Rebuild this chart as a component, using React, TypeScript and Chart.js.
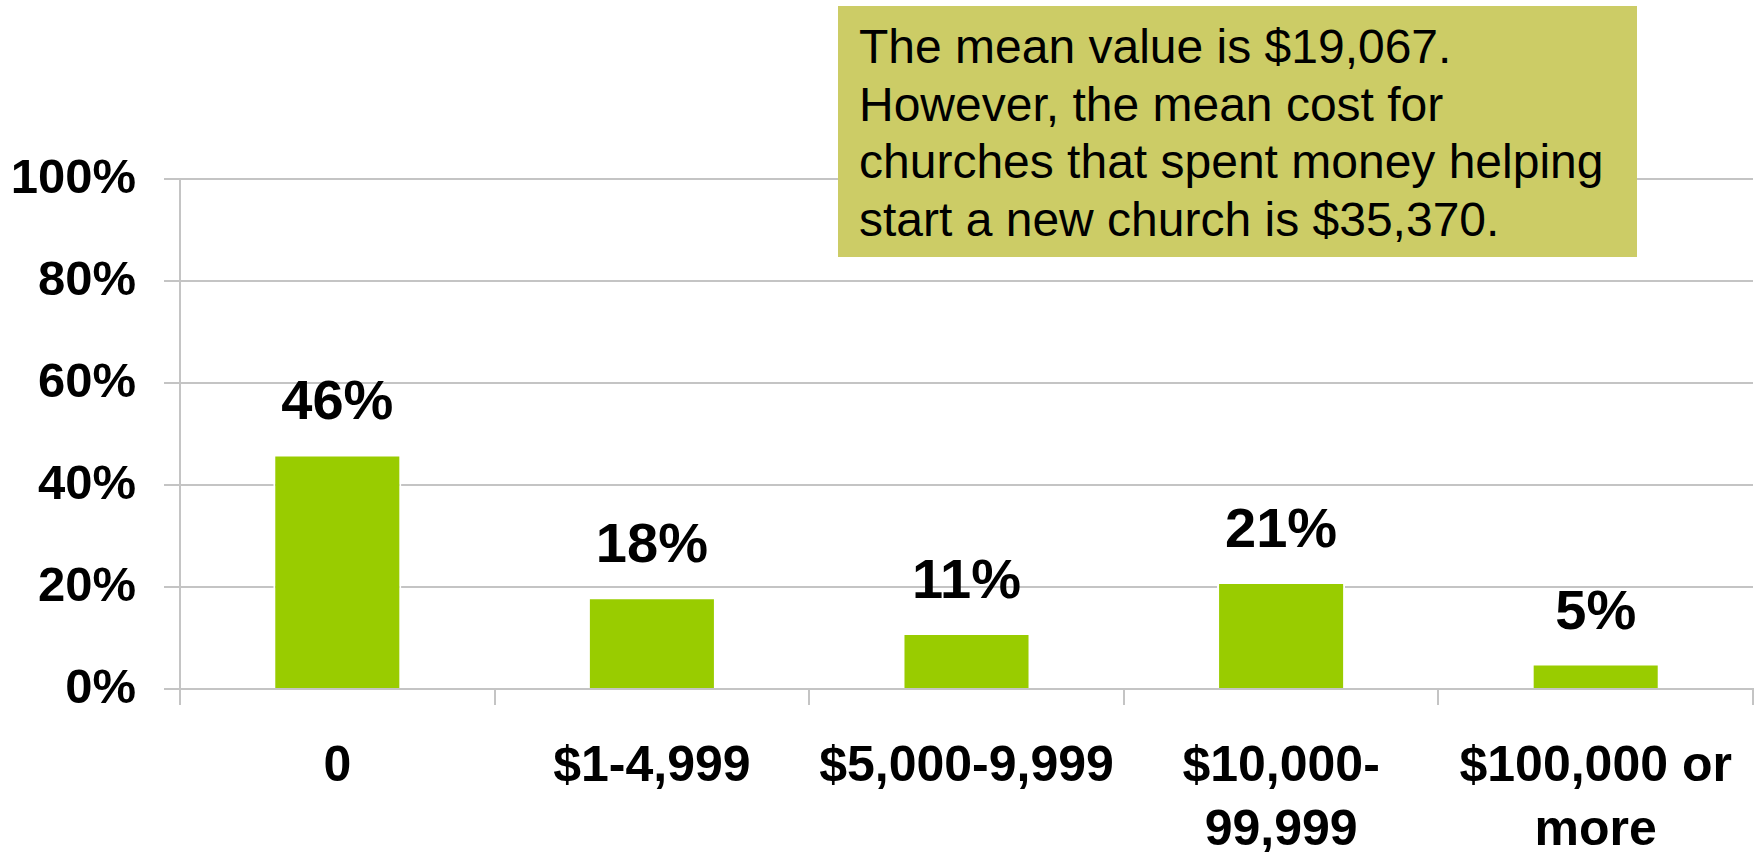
import React, { useEffect, useRef } from "react";
import { Chart, registerables } from "chart.js";

Chart.register(...registerables);

const categories: (string | string[])[] = [
  "0",
  "$1-4,999",
  "$5,000-9,999",
  ["$10,000-", "99,999"],
  ["$100,000 or", "more"],
];
const shares: number[] = [46, 18, 11, 21, 5];
const yMin = 0;
const yMax = 100;
const yStep = 20;
const noteLines: string[] = [
  "The mean value is $19,067.",
  "However, the mean cost for",
  "churches that spent money helping",
  "start a new church is $35,370.",
];

const FONT = "'Liberation Sans', Arial, Helvetica, sans-serif";
const GRID = "#C4C4C4";
const BAR = "#99CC00";

const barLabels = {
  id: "barLabels",
  afterDatasetsDraw(chart: any) {
    const ctx = chart.ctx as CanvasRenderingContext2D;
    const meta = chart.getDatasetMeta(0);
    ctx.save();
    ctx.font = `bold 56px ${FONT}`;
    ctx.fillStyle = "#000";
    ctx.textAlign = "center";
    ctx.textBaseline = "alphabetic";
    meta.data.forEach((el: any, i: number) => {
      ctx.fillText(`${shares[i]}%`, el.x, el.y - 35);
    });
    ctx.restore();
  },
};

export default function App() {
  const canvasRef = useRef<HTMLCanvasElement | null>(null);

  useEffect(() => {
    document.body.style.margin = "0";
    document.body.style.overflow = "hidden";
    const canvas = canvasRef.current;
    if (!canvas) return;
    const chart = new Chart(canvas, {
      type: "bar",
      data: {
        labels: categories as any,
        datasets: [
          {
            data: shares,
            backgroundColor: BAR,
            borderColor: "#FFFFFF",
            borderWidth: 2,
            borderSkipped: "bottom",
            categoryPercentage: 1,
            barPercentage: 0.407,
          },
        ],
      },
      options: {
        responsive: false,
        animation: false,
        events: [],
        layout: { padding: { top: 179, right: 5, left: 0, bottom: 0 } },
        plugins: {
          legend: { display: false },
          tooltip: { enabled: false },
        },
        scales: {
          x: {
            offset: true,
            grid: {
              offset: true,
              drawOnChartArea: true,
              drawTicks: true,
              tickLength: 16,
              lineWidth: 2,
              color: (c: any) =>
                c.index === 0 || c.index === categories.length ? GRID : "rgba(0,0,0,0)",
              tickColor: GRID,
            },
            border: { display: true, color: GRID, width: 2 },
            ticks: {
              color: "#000",
              autoSkip: false,
              maxRotation: 0,
              minRotation: 0,
              padding: 30,
              font: { family: FONT, size: 50, weight: "bold", lineHeight: 1.28 },
            },
            afterFit: (s: any) => {
              s.height = 163;
              s.paddingRight = 0;
              s.paddingLeft = 0;
            },
          },
          y: {
            min: yMin,
            max: yMax,
            grid: { color: GRID, lineWidth: 2, drawTicks: true, tickLength: 16 },
            border: { display: true, color: GRID, width: 2 },
            ticks: {
              stepSize: yStep,
              color: "#000",
              padding: 28,
              font: { family: FONT, size: 49, weight: "bold" },
              callback: (v: any) => `${v}%`,
            },
            afterFit: (s: any) => {
              s.width = 180;
            },
          },
        },
      },
      plugins: [barLabels],
    });
    return () => chart.destroy();
  }, []);

  return (
    <div style={{ position: "absolute", left: 0, top: 0, width: 1758, height: 852, background: "#fff" }}>
      <canvas ref={canvasRef} width={1758} height={852} style={{ display: "block", width: 1758, height: 852 }} />
      <div
        style={{
          position: "absolute",
          left: 838,
          top: 6,
          width: 799,
          height: 251,
          boxSizing: "border-box",
          background: "#CCCC66",
          paddingLeft: 21,
          paddingTop: 12,
          fontFamily: FONT,
          fontSize: 48,
          lineHeight: "57.5px",
          color: "#000",
          whiteSpace: "nowrap",
        }}
      >
        {noteLines.map((l, i) => (
          <div key={i}>{l}</div>
        ))}
      </div>
    </div>
  );
}
